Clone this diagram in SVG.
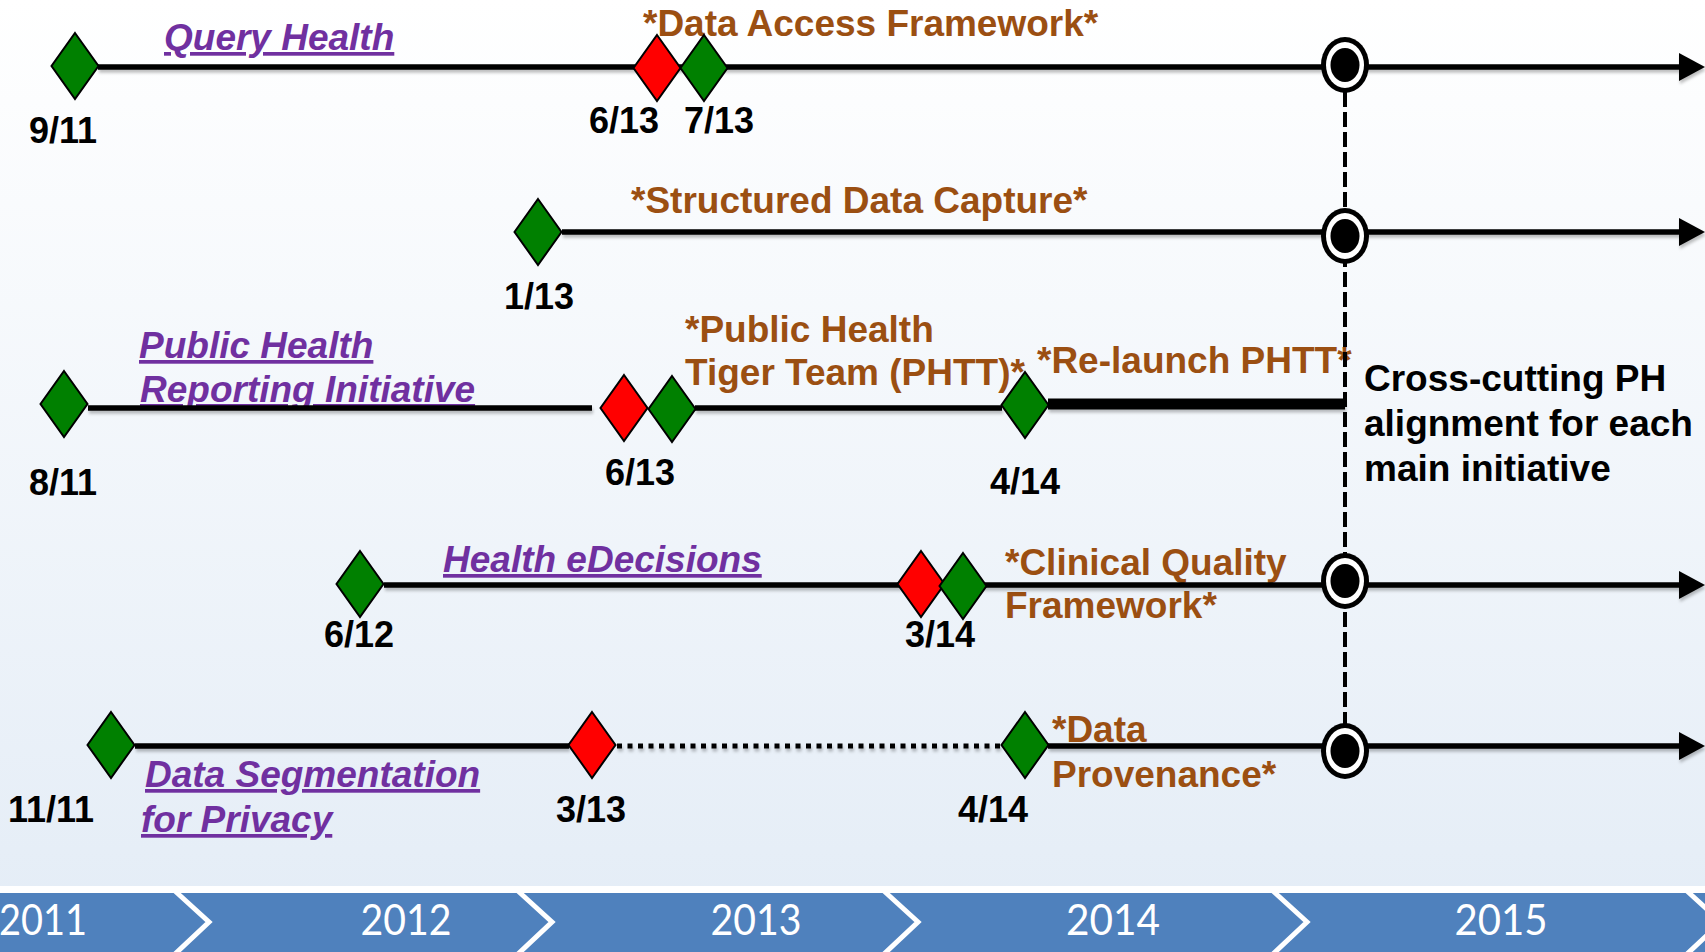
<svg xmlns="http://www.w3.org/2000/svg" width="1705" height="952" viewBox="0 0 1705 952">
  <defs>
    <linearGradient id="bg" x1="0" y1="0" x2="0" y2="1">
      <stop offset="0" stop-color="#ffffff"/>
      <stop offset="1" stop-color="#e3ecf6"/>
    </linearGradient>
    <filter id="sh" x="-5%" y="-50%" width="110%" height="200%">
      <feDropShadow dx="1" dy="3" stdDeviation="1.5" flood-color="#000" flood-opacity="0.25"/>
    </filter>
    <marker id="arr" markerUnits="userSpaceOnUse" markerWidth="26" markerHeight="28" viewBox="0 0 26 28" refX="0" refY="14" orient="auto">
      <path d="M0,0 L26,14 L0,28 Z" fill="#000"/>
    </marker>
    <path id="dia" d="M0,-33 L23.5,0 L0,33 L-23.5,0 Z"/>
    <g id="ring">
      <ellipse cx="0" cy="0" rx="24" ry="28" fill="#000"/>
      <ellipse cx="0" cy="0" rx="19" ry="23" fill="#fff"/>
      <ellipse cx="0" cy="0" rx="14.5" ry="17" fill="#000"/>
    </g>
    <style>
      .ln { stroke: #000; stroke-width: 5.5; fill: none; }
      .thick { stroke: #000; stroke-width: 11; fill: none; }
      .dot { stroke: #000; stroke-width: 5; stroke-dasharray: 5 5.5; fill: none; }
      .dash { stroke: #000; stroke-width: 4; stroke-dasharray: 15 5; fill: none; }
      .g { fill: #008000; stroke: #000; stroke-width: 2; }
      .r { fill: #ff0000; stroke: #000; stroke-width: 2; }
      .date { font-family: "Liberation Sans", Arial, sans-serif; font-weight: bold; font-size: 36px; fill: #000; text-anchor: middle; }
      .title { font-family: "Liberation Sans", Arial, sans-serif; font-weight: bold; font-style: italic; font-size: 37px; fill: #7030a0; text-decoration: underline; }
      .brown { font-family: "Liberation Sans", Arial, sans-serif; font-weight: bold; font-size: 37px; fill: #9b4f12; }
      .note { font-family: "Liberation Sans", Arial, sans-serif; font-weight: bold; font-size: 37px; fill: #000; }
      .year { font-family: Lato, "Open Sans", sans-serif; font-size: 42px; fill: #fff; text-anchor: middle; }
      .sep { stroke: #fff; stroke-width: 5; fill: none; }
    </style>
  </defs>

  <rect x="0" y="0" width="1705" height="952" fill="url(#bg)"/>

  <!-- initiative titles (behind lines) -->
  <g id="titles">
    <text class="title" x="164" y="50">Query Health</text>
    <text class="title" x="139" y="358">Public Health</text>
    <text class="title" x="140" y="402">Reporting Initiative</text>
    <text class="title" x="443" y="572">Health eDecisions</text>
    <text class="title" x="145" y="787">Data Segmentation</text>
    <text class="title" x="141" y="832">for Privacy</text>
  </g>

  <g id="successor-labels">
    <text class="brown" x="643" y="36">*Data Access Framework*</text>
    <text class="brown" x="631" y="213">*Structured Data Capture*</text>
    <text class="brown" x="685" y="342">*Public Health</text>
    <text class="brown" x="685" y="385">Tiger Team (PHTT)*</text>
    <text class="brown" x="1037" y="373">*Re-launch PHTT*</text>
    <text class="brown" x="1005" y="575">*Clinical Quality</text>
    <text class="brown" x="1005" y="618">Framework*</text>
    <text class="brown" x="1052" y="742">*Data</text>
    <text class="brown" x="1052" y="787">Provenance*</text>
  </g>

  <g id="connectors">
    <line class="dash" x1="1345" y1="92" x2="1345" y2="726"/>
    <g filter="url(#sh)">
      <line class="ln" x1="98" y1="67" x2="1679" y2="67" marker-end="url(#arr)"/>
      <line class="ln" x1="562" y1="232" x2="1679" y2="232" marker-end="url(#arr)"/>
      <line class="ln" x1="88" y1="408" x2="592" y2="408"/>
      <line class="ln" x1="695" y1="408" x2="1002" y2="408"/>
      <line class="thick" x1="1048" y1="404" x2="1345" y2="404"/>
      <line class="ln" x1="384" y1="585" x2="1679" y2="585" marker-end="url(#arr)"/>
      <line class="ln" x1="135" y1="746" x2="569" y2="746"/>
      <line class="dot" x1="617" y1="746" x2="1002" y2="746"/>
      <line class="ln" x1="1048" y1="746" x2="1679" y2="746" marker-end="url(#arr)"/>
    </g>
  </g>

  <g id="alignment-points">
    <use href="#ring" x="1345" y="65"/>
    <use href="#ring" x="1345" y="236"/>
    <use href="#ring" x="1345" y="581"/>
    <use href="#ring" x="1345" y="751"/>
  </g>

  <g id="row-query-health">
    <use href="#dia" class="g" x="75" y="66"/>
    <use href="#dia" class="r" x="657" y="68"/>
    <use href="#dia" class="g" x="704" y="68"/>
    <text class="date" x="63" y="143">9/11</text>
    <text class="date" x="624" y="133">6/13</text>
    <text class="date" x="719" y="133">7/13</text>
  </g>

  <g id="row-sdc">
    <use href="#dia" class="g" x="538" y="232"/>
    <text class="date" x="539" y="309">1/13</text>
  </g>

  <g id="row-phri">
    <use href="#dia" class="g" x="64" y="404"/>
    <use href="#dia" class="r" x="624" y="408"/>
    <use href="#dia" class="g" x="672" y="409"/>
    <use href="#dia" class="g" x="1025" y="405"/>
    <text class="date" x="63" y="495">8/11</text>
    <text class="date" x="640" y="485">6/13</text>
    <text class="date" x="1025" y="494">4/14</text>
  </g>

  <g id="row-hed">
    <use href="#dia" class="g" x="360" y="584"/>
    <use href="#dia" class="r" x="921" y="584"/>
    <use href="#dia" class="g" x="963" y="586"/>
    <text class="date" x="359" y="647">6/12</text>
    <text class="date" x="940" y="647">3/14</text>
  </g>

  <g id="row-ds4p">
    <use href="#dia" class="g" x="111" y="745"/>
    <use href="#dia" class="r" x="592" y="745"/>
    <use href="#dia" class="g" x="1025" y="745"/>
    <text class="date" x="51" y="822">11/11</text>
    <text class="date" x="591" y="822">3/13</text>
    <text class="date" x="993" y="822">4/14</text>
  </g>

  <g id="note">
    <text class="note" x="1364" y="391">Cross-cutting PH</text>
    <text class="note" x="1364" y="436">alignment for each</text>
    <text class="note" x="1364" y="481">main initiative</text>
  </g>

  <g id="year-band">
    <rect x="0" y="886" width="1705" height="8" fill="#fff"/>
    <rect x="0" y="893" width="1705" height="59" fill="#4f81bd"/>
    <polyline class="sep" points="175,891 209,922 175,954"/>
    <polyline class="sep" points="518,891 552,922 518,954"/>
    <polyline class="sep" points="884,891 918,922 884,954"/>
    <polyline class="sep" points="1273,891 1307,922 1273,954"/>
    <polyline class="sep" points="1687,891 1721,922 1687,954"/>
    <text class="year" x="43" y="935" textLength="88" lengthAdjust="spacingAndGlyphs">2011</text>
    <text class="year" x="406" y="935" textLength="91" lengthAdjust="spacingAndGlyphs">2012</text>
    <text class="year" x="756" y="935" textLength="91" lengthAdjust="spacingAndGlyphs">2013</text>
    <text class="year" x="1113" y="935" textLength="94" lengthAdjust="spacingAndGlyphs">2014</text>
    <text class="year" x="1501" y="935" textLength="93" lengthAdjust="spacingAndGlyphs">2015</text>
  </g>
</svg>
